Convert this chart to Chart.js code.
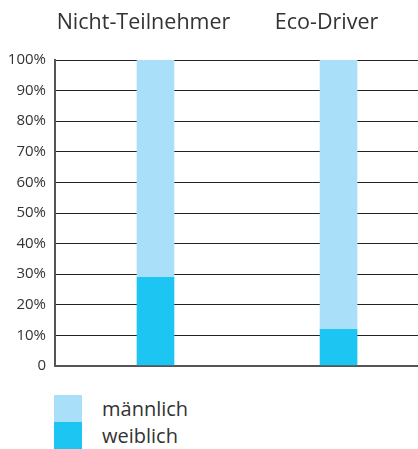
<!DOCTYPE html>
<html>

<head>
  <meta charset="UTF-8">
  <meta name="viewport" content="width=device-width, initial-scale=1.0">
  <style>
    body { margin: 0; background: #fff; font-family: "Open Sans", sans-serif; color: #333; }
    #wrap { position: relative; width: 418px; height: 384px; }
    .legend { position: absolute; left: 54px; top: 395px; }
    .item { display: flex; align-items: center; height: 27px; }
    .box { width: 28px; height: 27px; margin-right: 20px; }
    .item span { font-size: 20px; line-height: 27px; }
  </style>
</head>

<body>
  <div id="wrap"><canvas id="genderChart"></canvas></div>
  <div class="legend" id="legend"></div>

  <script src="https://cdn.jsdelivr.net/npm/chart.js@4.4.0/dist/chart.umd.min.js"></script>
  <script>
    const groups = ["Nicht-Teilnehmer", "Eco-Driver"]
    const maennlich = [71, 88]
    const weiblich = [29, 12]
    const seriesNames = ["männlich", "weiblich"]
    const colors = ["#a9dff9", "#1dc5f2"]

    const toPoints = (vals) => vals.map((v, i) => ({ x: i, y: v }))

    const ctx = document.getElementById("genderChart").getContext("2d")

    const chart = new Chart(ctx, {
      type: "bar",
      data: {
        datasets: [
          { label: seriesNames[1], data: toPoints(weiblich), backgroundColor: colors[1] },
          { label: seriesNames[0], data: toPoints(maennlich), backgroundColor: colors[0] }
        ]
      },
      options: {
        responsive: true,
        maintainAspectRatio: false,
        animation: false,
        layout: { padding: { top: 0, right: 0, bottom: 14, left: 0 } },
        datasets: { bar: { barThickness: 37 } },
        plugins: { legend: { display: false }, tooltip: { enabled: false } },
        scales: {
          x: {
            type: "linear",
            position: "top",
            stacked: true,
            offset: false,
            min: -0.549,
            max: 1.434,
            grid: { display: false },
            border: { display: false },
            afterBuildTicks: (s) => { s.ticks = groups.map((g, i) => ({ value: i })) },
            afterFit: (s) => { s.height = 60 },
            ticks: {
              autoSkip: false,
              maxRotation: 0,
              padding: 16,
              labelOffset: -12,
              color: "#333",
              font: { family: "Open Sans", size: 21.5 },
              callback: (v) => groups[v]
            }
          },
          y: {
            stacked: true,
            min: 0,
            max: 100,
            afterFit: (s) => { s.width = 55 },
            border: { display: true, color: "#555", width: 2 },
            grid: {
              drawTicks: false,
              color: (c) => c.tick.value === 0 ? "#555" : "#222",
              lineWidth: (c) => c.tick.value === 0 ? 2 : 1
            },
            ticks: {
              stepSize: 10,
              padding: 9,
              color: "#333",
              font: { family: "Open Sans", size: 15 },
              callback: (v) => v === 0 ? "0" : v + "%"
            }
          }
        }
      }
    })

    const legend = document.getElementById("legend")
    seriesNames.forEach((name, i) => {
      const row = document.createElement("div")
      row.className = "item"
      row.innerHTML = '<div class="box" style="background:' + colors[i] + '"></div><span>' + name + '</span>'
      legend.appendChild(row)
    })
  </script>
</body>
</html>
